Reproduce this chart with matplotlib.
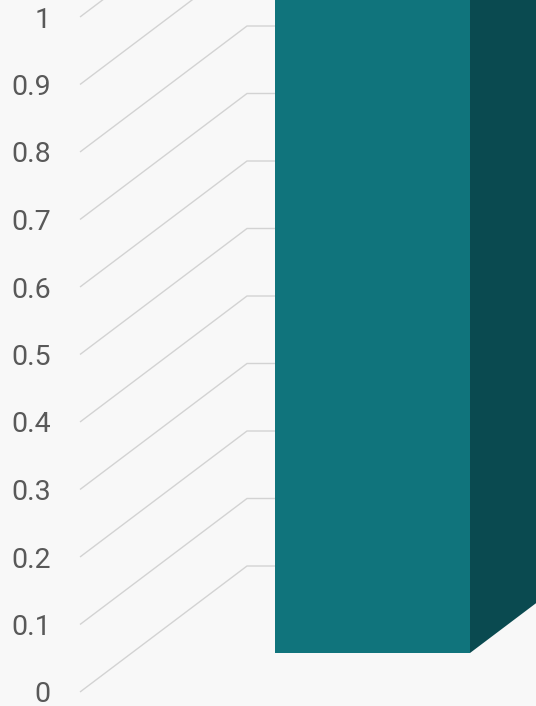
import matplotlib
matplotlib.use('Agg')
import matplotlib.pyplot as plt
from matplotlib.patches import Polygon

# ---- data ----
categories = ['Series 1']
values = [1.0]
tick_values = [0, 0.1, 0.2, 0.3, 0.4, 0.5, 0.6, 0.7, 0.8, 0.9, 1.0]
tick_labels = ['0', '0.1', '0.2', '0.3', '0.4', '0.5', '0.6', '0.7', '0.8', '0.9', '1']

# ---- layout (pixel-based oblique projection) ----
W, H = 536, 706
PX_PER_VAL = 675.0
Y0_PX = 692.0
DX = 167.0                      # horizontal shift for full depth (px)
DY = 126.0 / PX_PER_VAL         # vertical shift for full depth (value units)
X_WALL = 80.0                   # left edge of the floor / side wall
BAR_W = 195.0
DEPTH_FRONT = 39.0 / 126.0
DEPTH_BACK = DEPTH_FRONT + 66.0 / DX
BAR_CENTER0 = 372.5 - DEPTH_FRONT * DX   # base-x of first category

FRONT = '#10747C'
SIDE = '#0A4A50'
TOP = '#148A93'
GRID = '#D3D3D3'
TEXT = '#595959'

def proj(x, v, d):
    return (x + d * DX, v + d * DY)

fig = plt.figure(figsize=(W / 100, H / 100), dpi=100)
fig.patch.set_facecolor('#F8F8F8')
ax = fig.add_axes([0, 0, 1, 1])
ax.set_facecolor('#F8F8F8')
ax.set_xlim(0, W)
ax.set_ylim(-(H - Y0_PX) / PX_PER_VAL, Y0_PX / PX_PER_VAL)
ax.axis('off')

# gridlines: along side wall then along back wall
for t in tick_values:
    p0 = proj(X_WALL, t, 0)
    p1 = proj(X_WALL, t, 1)
    p2 = (W + 50, p1[1])
    ax.plot([p0[0], p1[0], p2[0]], [p0[1], p1[1], p2[1]],
            color=GRID, lw=1.0, zorder=1, solid_capstyle='butt')

# tick labels
for t, lab in zip(tick_values, tick_labels):
    ax.text(51, t - 3.0 / PX_PER_VAL, lab, ha='right', va='center', fontsize=20.5,
            family=['Roboto', 'DejaVu Sans'], color=TEXT, zorder=3)

# bars
for i, (cat, v) in enumerate(zip(categories, values)):
    xc = BAR_CENTER0 + i * 300
    xl, xr = xc - BAR_W / 2, xc + BAR_W / 2
    side = [proj(xr, 0, DEPTH_FRONT), proj(xr, 0, DEPTH_BACK),
            proj(xr, v, DEPTH_BACK), proj(xr, v, DEPTH_FRONT)]
    top = [proj(xl, v, DEPTH_FRONT), proj(xr, v, DEPTH_FRONT),
           proj(xr, v, DEPTH_BACK), proj(xl, v, DEPTH_BACK)]
    front = [proj(xl, 0, DEPTH_FRONT), proj(xr, 0, DEPTH_FRONT),
             proj(xr, v, DEPTH_FRONT), proj(xl, v, DEPTH_FRONT)]
    ax.add_patch(Polygon(side, closed=True, facecolor=SIDE, edgecolor='none', zorder=4))
    ax.add_patch(Polygon(top, closed=True, facecolor=TOP, edgecolor='none', zorder=4))
    ax.add_patch(Polygon(front, closed=True, facecolor=FRONT, edgecolor='none', zorder=5))

fig.savefig('out.png', dpi=100, facecolor=fig.get_facecolor())
